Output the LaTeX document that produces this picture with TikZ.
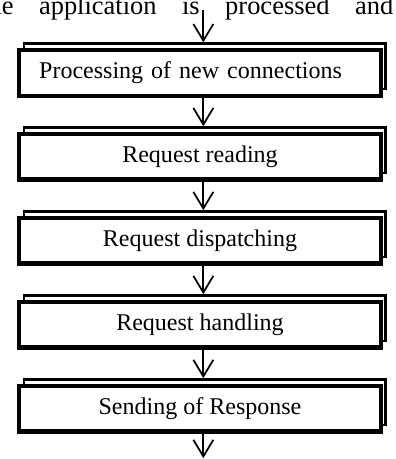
\documentclass[tikz,border=0pt]{standalone}
\usepackage{fontspec}
\setmainfont{Liberation Serif}
\usetikzlibrary{positioning,arrows.meta,shadows}

\begin{document}
\begin{tikzpicture}[
    x=0.03cm, y=-0.03cm,
    stage/.style={rectangle, draw, line width=3.8pt, fill=white, inner sep=0pt, minimum width=10.85cm, minimum height=1.365cm, font=\fontsize{20.5}{24}\selectfont, copy shadow={shadow xshift=0.14cm, shadow yshift=0.2cm, line width=2pt}},
    arrow/.style={-{Straight Barb[length=0.5cm, width=0.6cm]}, line width=1.5pt}
]
\useasboundingbox (0,0) rectangle (395,459);

% line of the paragraph above, cut by the page
\node[anchor=base west, inner sep=0pt, font=\fontsize{22.6}{26}\selectfont] (para) at (-19,15) {\hbox to 12.36cm{the\hfill application\hfill is\hfill processed\hfill and}};

% Stages
\node[stage, align=left, text width=9.65cm, inner xsep=0.6cm] (conn) at (200,73) {Processing of new connections};
\node[stage, below=1.02cm of conn] (read) {Request reading};
\node[stage, below=1.02cm of read] (disp) {Request dispatching};
\node[stage, below=1.02cm of disp] (hand) {Request handling};
\node[stage, below=1.02cm of hand] (resp) {Sending of Response};

\coordinate[above=1.14cm of conn.north] (in);
\coordinate[below=0.73cm of resp.south] (out);

\draw[arrow] ([xshift=0.1cm]in) -- ([xshift=0.1cm, yshift=0.17cm]conn.north);
\draw[arrow] ([xshift=0.1cm]conn.south) -- ([xshift=0.1cm, yshift=0.17cm]read.north);
\draw[arrow] ([xshift=0.1cm]read.south) -- ([xshift=0.1cm, yshift=0.17cm]disp.north);
\draw[arrow] ([xshift=0.1cm]disp.south) -- ([xshift=0.1cm, yshift=0.17cm]hand.north);
\draw[arrow] ([xshift=0.1cm]hand.south) -- ([xshift=0.1cm, yshift=0.17cm]resp.north);
\draw[arrow] ([xshift=0.1cm]resp.south) -- ([xshift=0.1cm]out);

\end{tikzpicture}
\end{document}
